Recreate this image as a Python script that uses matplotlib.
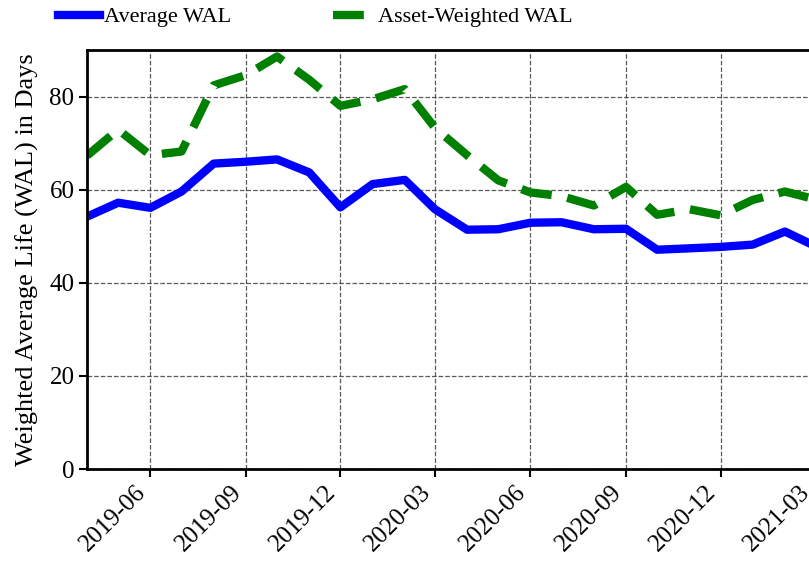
import matplotlib
matplotlib.use("Agg")
import matplotlib.pyplot as plt
import matplotlib.dates as mdates
import pandas as pd

plt.rcParams['font.family'] = ['Liberation Serif', 'DejaVu Serif']

dates = pd.date_range("2019-04-01", "2021-03-01", freq="MS")
average_wal = [54.2, 57.2, 56.1, 59.6, 65.6, 66.0, 66.5, 63.7, 56.2, 61.2, 62.1, 55.8,
               51.4, 51.5, 52.9, 53.0, 51.5, 51.6, 47.1, 47.4, 47.7, 48.2, 51.0, 48.0]
asset_weighted_wal = [67.3, 72.9, 67.4, 68.2, 82.4, 84.6, 88.6, 83.6, 78.0, 79.4, 81.6, 73.3,
                      67.4, 62.0, 59.4, 58.6, 56.6, 60.6, 54.6, 55.8, 54.5, 57.8, 59.6, 58.0]
y_ticks = [0, 20, 40, 60, 80]
x_ticks = pd.to_datetime(["2019-06-01", "2019-09-01", "2019-12-01", "2020-03-01",
                          "2020-06-01", "2020-09-01", "2020-12-01", "2021-03-01"])

W, H = 809, 563
fig = plt.figure(figsize=(W / 100, H / 100), dpi=100)
ax = fig.add_axes([87 / W, (H - 469) / H, (814 - 87) / W, (469 - 50) / H])

ax.plot(dates, average_wal, color='blue', lw=6, label='Average WAL')
ax.plot(dates, asset_weighted_wal, color='green', lw=6, ls=(0, (3.7, 1.9)),
        label='Asset-Weighted WAL')

ax.set_xlim(dates[0], dates[-1])
ax.set_ylim(0, 90)
ax.set_yticks(y_ticks)
ax.set_xticks(x_ticks)
ax.xaxis.set_major_formatter(mdates.DateFormatter("%Y-%m"))
ax.tick_params(labelsize=18, width=1.5, length=6, direction='out', pad=3)
for lbl in ax.get_xticklabels():
    lbl.set_rotation(45)
    lbl.set_ha('right')
ax.grid(True, color='#333333', ls='--', lw=0.9, alpha=0.8)
for s in ax.spines.values():
    s.set_linewidth(2)

ax.set_ylabel("Weighted Average Life (WAL) in Days", fontsize=19)
ax.yaxis.set_label_coords(-0.066, 0.5)

ax.legend(loc='center left', bbox_to_anchor=(58 / W, 1 - 17 / H),
          bbox_transform=fig.transFigure, ncol=2, frameon=False,
          fontsize=16, columnspacing=4.6, handletextpad=0.15, handlelength=1.9,
          borderpad=0, borderaxespad=0)

fig.savefig("out.png", dpi=100)
